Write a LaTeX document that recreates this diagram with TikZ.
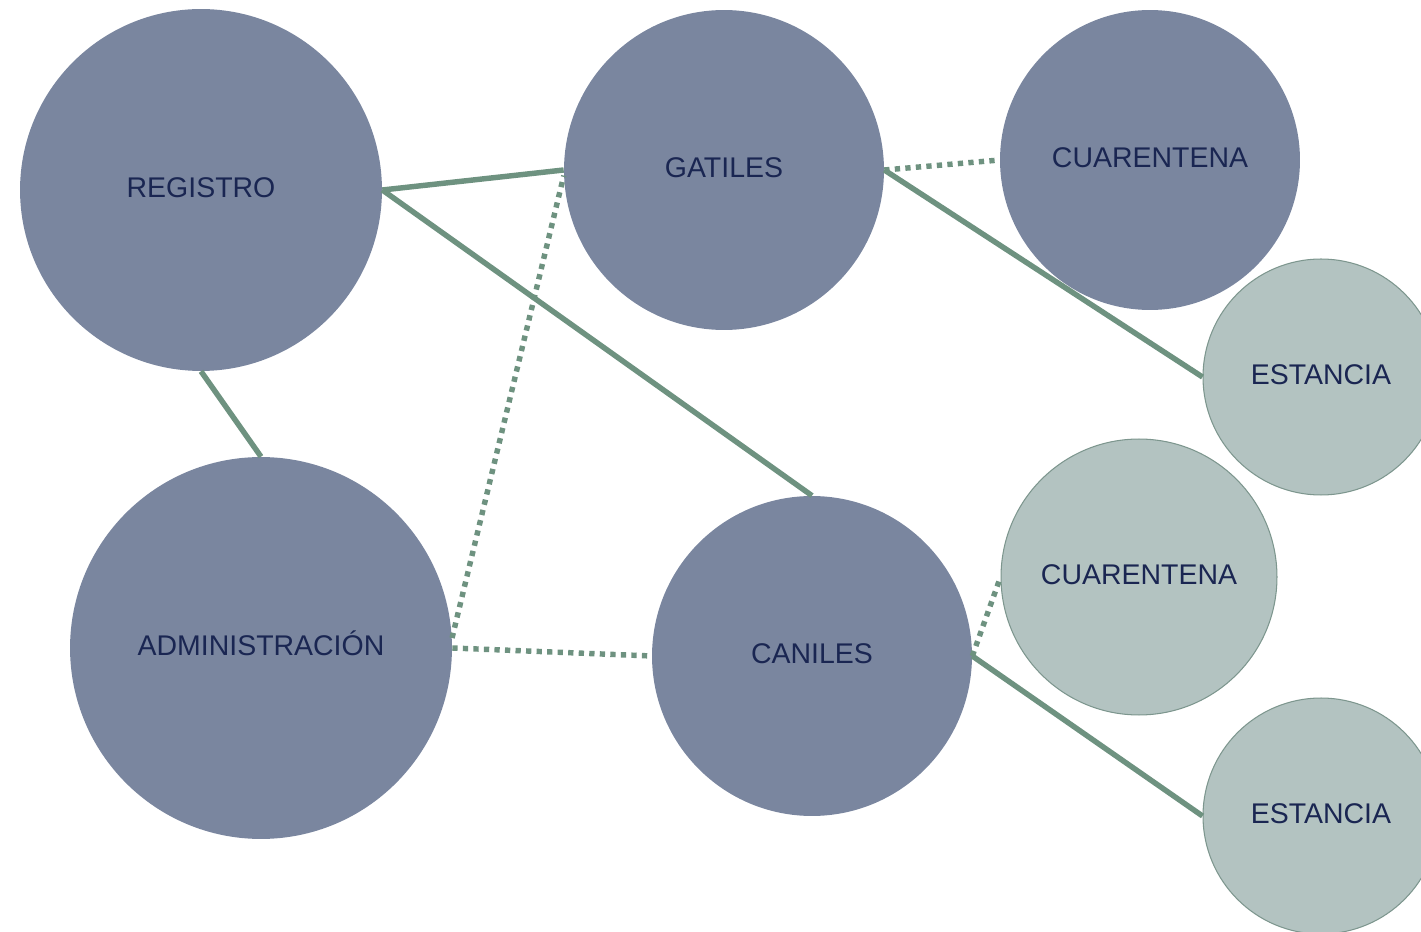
\documentclass[tikz,border=0pt]{standalone}
\usepackage{fontspec}
\setmainfont{Liberation Sans}
\definecolor{darkc}{RGB}{122,134,159}
\definecolor{lightc}{RGB}{179,195,193}
\definecolor{lightb}{RGB}{125,150,142}
\definecolor{linec}{RGB}{110,146,128}
\definecolor{textc}{RGB}{26,38,82}
\begin{document}
\begin{tikzpicture}[x=0.02cm,y=-0.02cm,
  bubble/.style={circle,inner sep=0pt,text=textc,text height=8.5pt,text depth=0pt,font=\fontsize{16.2}{19}\selectfont},
  darkb/.style={bubble,fill=darkc},
  lightbub/.style={bubble,fill=lightc,draw=lightb,line width=0.6pt},
  solidlink/.style={draw=linec,line width=3.1pt},
  dotlink/.style={draw=linec,line width=3.1pt,dash pattern=on 3pt off 3pt}]
\useasboundingbox (0,0) rectangle (1421,932);
\node[darkb,minimum size=7.24cm] (reg) at (201,190) {REGISTRO};
\node[darkb,minimum size=6.40cm] (gat) at (724,170) {GATILES};
\node[darkb,minimum size=6.00cm] (cua1) at (1150,160) {CUARENTENA};
\node[lightbub,minimum size=4.72cm] (est1) at (1321,377) {ESTANCIA};
\node[darkb,minimum size=7.64cm] (adm) at (261,648) {ADMINISTRACIÓN};
\node[darkb,minimum size=6.40cm] (can) at (812,656) {CANILES};
\node[lightbub,minimum size=5.52cm] (cua2) at (1139,577) {CUARENTENA};
\node[lightbub,minimum size=4.72cm] (est2) at (1321,816) {ESTANCIA};
\draw[solidlink] (reg.east) -- (gat.west);
\draw[solidlink] (reg.east) -- (can.north);
\draw[solidlink] (reg.south) -- (adm.north);
\draw[dotlink] (adm.3) -- (gat.182);
\draw[dotlink] (adm.east) -- (can.west);
\draw[dotlink] (gat.east) -- (cua1.west);
\draw[solidlink] (gat.east) -- (est1.west);
\draw[dotlink] (can.east) -- (cua2.west);
\draw[solidlink] (can.east) -- (est2.west);
\end{tikzpicture}
\end{document}
